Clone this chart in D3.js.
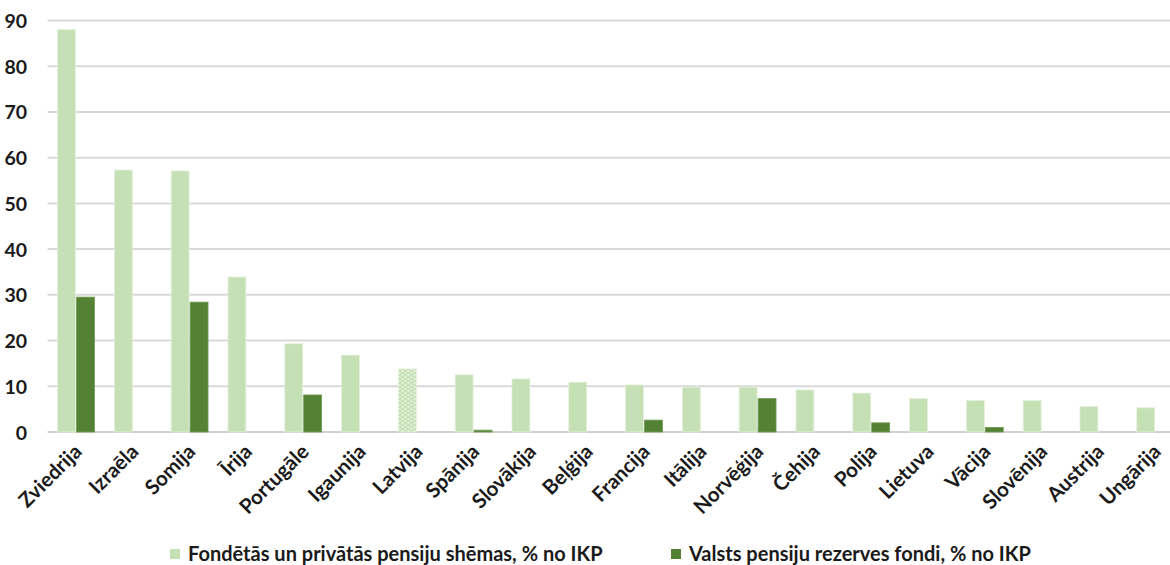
<!DOCTYPE html>
<html>
<head>
<meta charset="utf-8">
<script src="https://cdn.jsdelivr.net/npm/d3@7"></script>
<style>
  html, body { margin: 0; padding: 0; background: #fff; }
  svg { display: block; }
  text { font-family: Lato, "Open Sans", sans-serif; font-weight: 700; fill: #1a1a1a; }
</style>
</head>
<body>
<svg id="chart" width="1170" height="565"></svg>
<script>
// Pension assets by country, % of GDP
const countries = ["Zviedrija", "Izraēla", "Somija", "Īrija", "Portugāle", "Igaunija", "Latvija",
  "Spānija", "Slovākija", "Beļģija", "Francija", "Itālija", "Norvēģija", "Čehija", "Polija",
  "Lietuva", "Vācija", "Slovēnija", "Austrija", "Ungārija"];
const privateSchemes = [88.0, 57.3, 57.1, 33.9, 19.3, 16.8, 13.8, 12.5, 11.6, 10.9, 10.3, 9.8, 9.8,
  9.2, 8.5, 7.3, 6.9, 6.9, 5.6, 5.3];
const reserveFunds = [29.5, null, 28.4, null, 8.1, null, null, 0.4, null, null, 2.6, null, 7.3,
  null, 2.0, null, 1.0, null, null, null];
const seriesNames = ["Fondētās un privātās pensiju shēmas, % no IKP", "Valsts pensiju rezerves fondi, % no IKP"];
const yTicks = [0, 10, 20, 30, 40, 50, 60, 70, 80, 90];
const highlighted = "Latvija";

const lightGreen = "#C5E0B4", darkGreen = "#548235";

const svg = d3.select("#chart");
const plot = { left: 47.6, right: 1183.6, top: 20.5, bottom: 432 };

// dotted fill used for the highlighted country
const defs = svg.append("defs");
const pat = defs.append("pattern").attr("id", "dots")
  .attr("patternUnits", "userSpaceOnUse").attr("width", 6).attr("height", 4);
pat.append("rect").attr("width", 6).attr("height", 4).attr("fill", lightGreen);
pat.append("rect").attr("x", 0.5).attr("y", 0.5).attr("width", 2).attr("height", 1.2).attr("fill", "#fff");
pat.append("rect").attr("x", 3.5).attr("y", 2.5).attr("width", 2).attr("height", 1.2).attr("fill", "#fff");

const x = d3.scaleBand().domain(countries).range([plot.left, plot.right])
  .paddingInner(1 / 3).paddingOuter(1 / 6);
const xs = d3.scaleBand().domain([0, 1]).range([0, x.bandwidth()]);
const y = d3.scaleLinear().domain([0, 90]).range([plot.bottom, plot.top]);

// gridlines
svg.append("g").selectAll("line").data(yTicks).join("line")
  .attr("x1", plot.left).attr("x2", 1170)
  .attr("y1", d => y(d)).attr("y2", d => y(d))
  .attr("stroke", d => d === 0 ? "#D0D0D0" : "#D9D9D9").attr("stroke-width", 2);

// y-axis labels
const yAxis = d3.axisLeft(y).tickValues(yTicks).tickSize(0).tickPadding(0);
const yg = svg.append("g").attr("transform", "translate(27,0)").call(yAxis);
yg.select(".domain").remove();
yg.selectAll("text").attr("font-size", 19.5).attr("font-family", null).attr("dy", "0.36em");

// bars
const rows = countries.map((c, i) => ({ c, vals: [privateSchemes[i], reserveFunds[i]] }));
const groups = svg.append("g").selectAll("g").data(rows).join("g")
  .attr("transform", d => `translate(${x(d.c)},0)`);
groups.selectAll("rect")
  .data(d => d.vals.map((v, k) => ({ v, k, c: d.c })).filter(e => e.v != null))
  .join("rect")
  .attr("x", e => xs(e.k) + 0.5)
  .attr("width", xs.bandwidth() - 1)
  .attr("y", e => y(e.v))
  .attr("height", e => y(0) - y(e.v))
  .attr("fill", e => e.k === 0 ? (e.c === highlighted ? "url(#dots)" : lightGreen) : darkGreen)
  .attr("stroke", e => e.k === 0 ? "#E4F0DC" : "#6E9A50")
  .attr("stroke-width", 0.8);

// x-axis labels
svg.append("g").selectAll("text").data(countries).join("text")
  .attr("transform", d => `translate(${x(d) + x.bandwidth() / 2 + 7},453) rotate(-45)`)
  .attr("text-anchor", "end")
  .attr("font-size", 20.5)
  .text(d => d);

// legend
const legend = svg.append("g").attr("transform", "translate(0,554)");
const legendX = [170, 671];
seriesNames.forEach((name, k) => {
  legend.append("rect").attr("x", legendX[k]).attr("y", -5).attr("width", 10).attr("height", 10)
    .attr("fill", k === 0 ? lightGreen : darkGreen);
  legend.append("text").attr("x", legendX[k] + 18).attr("y", 0).attr("dy", "0.35em")
    .attr("font-size", 20).text(name);
});
</script>
</body>
</html>
